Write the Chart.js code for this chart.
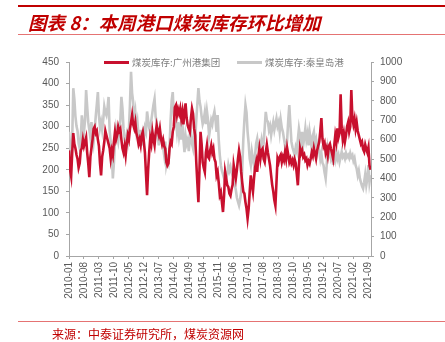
<html>
<head>
<meta charset="utf-8">
<script src="https://cdn.jsdelivr.net/npm/chart.js"></script>
<style>
  body { margin: 0; background: #fff; }
  #wrap { position: relative; width: 445px; height: 342px; overflow: hidden; }
  #chart { position: absolute; left: 0; top: 0; }
  .bar-top { position: absolute; left: 18px; right: 0; top: 5px; height: 2px; background: #c00000; }
  .bar-thin { position: absolute; left: 18px; right: 0; height: 1px; background: #e57373; }
  .title { position: absolute; left: 28px; top: 9px; font: italic bold 18.5px "Noto Sans CJK SC"; color: #c00000; white-space: nowrap; }
  .source { position: absolute; left: 52px; top: 325px; font: 12px "Noto Sans CJK SC"; color: #c00000; white-space: nowrap; }
  .legend { position: absolute; top: 55px; font: 9.5px "Noto Sans CJK SC"; color: #7f7f7f; white-space: nowrap; }
  .legend span { display: inline-block; width: 25px; height: 3px; vertical-align: middle; margin-right: 3px; position: relative; top: -1px; }
</style>
</head>
<body>
<div id="wrap">
  <canvas id="chart" width="445" height="342"></canvas>
  <div class="bar-top"></div>
  <div class="title">图表 8：本周港口煤炭库存环比增加</div>
  <div class="bar-thin" style="top:34px"></div>
  <div class="legend" style="left:104px"><span style="background:#c8102e"></span>煤炭库存:广州港集团</div>
  <div class="legend" style="left:237px"><span style="background:#c8c8c8"></span>煤炭库存:秦皇岛港</div>
  <div class="bar-thin" style="top:321px"></div>
  <div class="source">来源：中泰证券研究所，煤炭资源网</div>
</div>

<script>
    // month labels 2010-01 .. 2021-10 (x = month index)
    var months = [];
    for (var y = 2010; y <= 2021; y++) {
        for (var mo = 1; mo <= 12; mo++) {
            if (y == 2021 && mo > 10) break;
            months.push(y + '-' + (mo < 10 ? '0' + mo : mo));
        }
    }

    // half-monthly readings, first value = 2010-01
    // 广州港集团 (left axis, 万吨)
    var gz_stock = [
        245, 200, 185, 240, 285, 260, 250, 235, 225, 205,
        215, 245, 250, 270, 255, 265, 275, 240, 215, 183,
        230, 250, 270, 295, 300, 285, 290, 270, 255, 215,
        187, 230, 245, 265, 290, 280, 270, 260, 250, 226,
        245, 234, 265, 288, 270, 280, 300, 290, 295, 270,
        250, 240, 255, 234, 260, 280, 270, 295, 310, 327,
        305, 296, 310, 285, 275, 260, 270, 257, 280, 288,
        265, 240, 190, 141, 200, 241, 273, 260, 288, 270,
        257, 285, 303, 290, 280, 295, 273, 260, 270, 255,
        249, 218, 210, 215, 249, 265, 260, 288, 300, 345,
        350, 327, 340, 330, 342, 320, 335, 305, 334, 354,
        320, 303, 295, 288, 320, 342, 330, 296, 280, 218,
        170, 125, 200, 288, 260, 218, 205, 195, 240, 257,
        230, 226, 245, 257, 240, 249, 225, 218, 187, 195,
        170, 141, 148, 125, 102, 140, 195, 180, 164, 160,
        145, 140, 155, 165, 211, 195, 180, 200, 225, 245,
        230, 195, 170, 149, 145, 125, 110, 87, 110, 150,
        187, 165, 149, 180, 205, 218, 195, 230, 249, 226,
        245, 249, 225, 218, 240, 258, 240, 225, 210, 187,
        165, 150, 130, 117, 170, 226, 218, 230, 235, 218,
        230, 222, 240, 225, 250, 235, 218, 226, 215, 222,
        211, 224, 215, 190, 164, 210, 250, 238, 245, 230,
        235, 222, 226, 211, 220, 214, 226, 240, 232, 250,
        238, 226, 245, 255, 265, 290, 320, 272, 255, 262,
        240, 250, 234, 255, 260, 248, 238, 226, 255, 280,
        265, 296, 275, 285, 375, 296, 270, 285, 265, 280,
        300, 310, 288, 300, 385, 320, 305, 318, 295, 310,
        290, 280, 270, 260, 265, 248, 242, 258, 248, 240,
        252, 210, 200
    ];

    // 秦皇岛港 (right axis, 万吨)
    var qhd_stock = [
        640, 560, 520, 600, 865, 810, 720, 670, 645, 580,
        555, 600, 725, 680, 640, 700, 855, 770, 690, 650,
        610, 690, 640, 590, 650, 720, 780, 845, 725, 660,
        690, 650, 700, 770, 740, 725, 760, 820, 645, 590,
        535, 400, 480, 590, 655, 620, 590, 640, 700, 820,
        760, 655, 600, 570, 620, 590, 650, 780, 950, 840,
        795, 700, 740, 655, 690, 620, 600, 650, 570, 630,
        600, 660, 640, 745, 700, 660, 640, 700, 740, 780,
        810, 720, 690, 620, 570, 640, 600, 590, 560, 520,
        590, 470, 500, 480, 560, 700, 800, 845, 725, 680,
        700, 640, 690, 620, 660, 600, 690, 600, 535, 620,
        580, 600, 540, 600, 640, 580, 555, 620, 600, 700,
        780, 865, 800, 770, 720, 680, 700, 740, 680, 745,
        700, 620, 660, 700, 680, 720, 745, 700, 640, 726,
        600, 520, 468, 440, 420, 400, 430, 400, 420, 468,
        440, 460, 430, 416, 400, 370, 340, 300, 280, 261,
        290, 330, 450, 600, 700, 778, 740, 640, 580, 502,
        470, 537, 500, 468, 520, 580, 605, 560, 537, 570,
        600, 555, 580, 660, 743, 700, 692, 650, 670, 623,
        660, 690, 650, 680, 709, 670, 690, 640, 700, 660,
        640, 605, 570, 537, 600, 700, 778, 680, 588, 560,
        540, 520, 560, 540, 600, 657, 620, 580, 640, 571,
        610, 657, 600, 630, 570, 640, 600, 554, 620, 640,
        580, 600, 537, 571, 540, 500, 530, 480, 468, 430,
        400, 470, 554, 520, 540, 502, 520, 470, 537, 500,
        537, 500, 520, 485, 510, 537, 510, 520, 502, 530,
        510, 520, 505, 530, 510, 520, 490, 505, 468, 450,
        416, 440, 400, 380, 360, 347, 380, 420, 365, 400,
        468, 380, 416
    ];

    function toPoints(arr) {
        return arr.map(function (v, i) { return { x: i / 2, y: v }; });
    }

    var axisColor = '#a6a6a6';
    var tickFont = { family: 'Liberation Sans', size: 10 };

    new Chart(document.getElementById('chart'), {
        type: 'line',
        data: {
            datasets: [{
                label: '煤炭库存:广州港集团',
                data: toPoints(gz_stock),
                borderColor: '#c8102e',
                borderWidth: 2.6,
                pointRadius: 0,
                tension: 0,
                yAxisID: 'y'
            }, {
                label: '煤炭库存:秦皇岛港',
                data: toPoints(qhd_stock),
                borderColor: '#c8c8c8',
                borderWidth: 2.6,
                pointRadius: 0,
                tension: 0,
                yAxisID: 'y2'
            }]
        },
        options: {
            responsive: false,
            animation: false,
            layout: { padding: { top: 62, bottom: 41, left: 0, right: 0 } },
            plugins: { legend: { display: false }, tooltip: { enabled: false } },
            scales: {
                x: {
                    type: 'linear',
                    min: 0, max: 141.2,
                    afterBuildTicks: function (scale) {
                        var t = [];
                        for (var i = 0; i < months.length; i += 7) t.push({ value: i });
                        scale.ticks = t;
                    },
                    afterFit: function (scale) { scale.height = 45; },
                    ticks: {
                        autoSkip: false, maxRotation: 90, minRotation: 90, padding: 3,
                        color: '#595959', font: tickFont,
                        callback: function (v) { return months[v]; }
                    },
                    grid: { drawOnChartArea: false, tickLength: 3, color: axisColor },
                    border: { color: axisColor }
                },
                y: {
                    position: 'left',
                    min: 0, max: 450,
                    afterFit: function (scale) { scale.width = 69; },
                    ticks: { stepSize: 50, padding: 7, color: '#595959', font: tickFont },
                    grid: { drawOnChartArea: false, tickLength: 3, color: axisColor },
                    border: { color: axisColor }
                },
                y2: {
                    position: 'right',
                    min: 0, max: 1000,
                    afterFit: function (scale) { scale.width = 74; },
                    ticks: {
                        stepSize: 100, padding: 6, color: '#595959', font: tickFont,
                        callback: function (v) { return String(v); }
                    },
                    grid: { drawOnChartArea: false, tickLength: 3, color: axisColor },
                    border: { color: axisColor }
                }
            }
        }
    });
</script>
</body>
</html>
